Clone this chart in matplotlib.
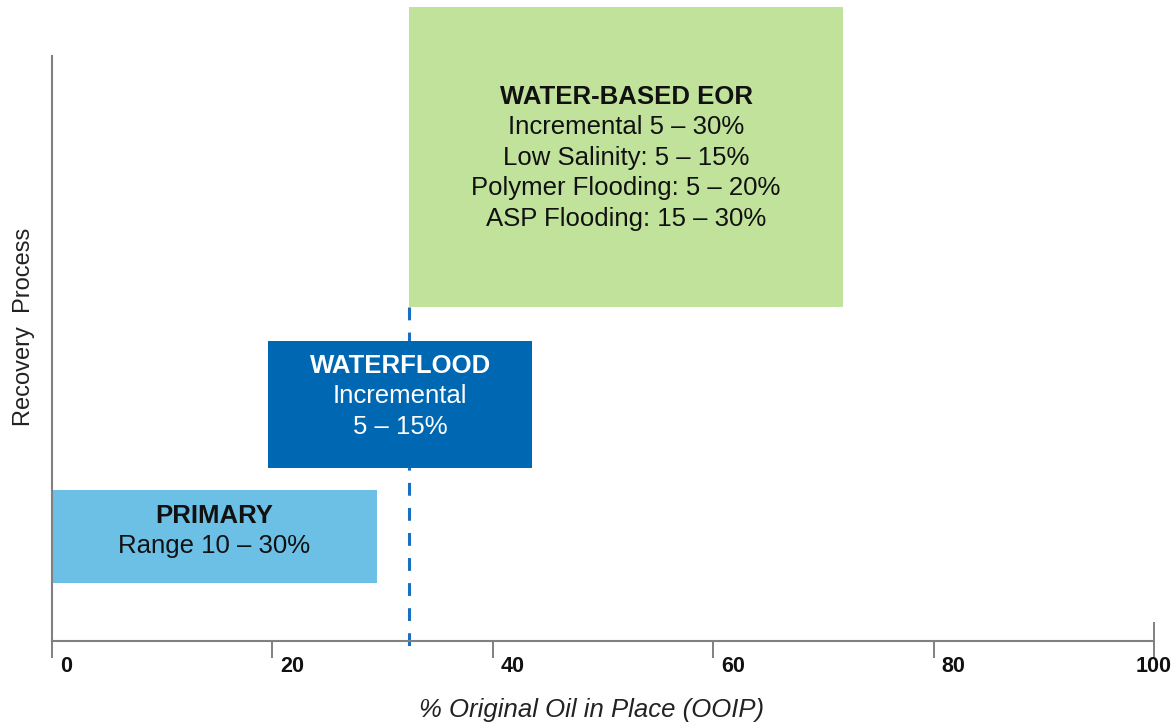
import matplotlib
matplotlib.use("Agg")
import matplotlib.pyplot as plt

plt.rcParams["font.family"] = ["Liberation Sans", "DejaVu Sans"]

# Recovery stages: OOIP span (x) and lane (y) of each block
processes = ["PRIMARY", "WATERFLOOD", "WATER-BASED EOR"]
ooip_start = [0, 19.6, 32.4]
ooip_end = [29.5, 43.6, 71.8]
lane_bottom = [9.1, 27.3, 52.7]
lane_top = [23.8, 47.3, 100.0]
details = [
    ["Range 10 \u2013 30%"],
    ["Incremental", "5 \u2013 15%"],
    ["Incremental 5 \u2013 30%", "Low Salinity: 5 \u2013 15%",
     "Polymer Flooding: 5 \u2013 20%", "ASP Flooding: 15 \u2013 30%"],
]
eor_onset = 32.4
x_ticks = [0, 20, 40, 60, 80, 100]
x_tick_labels = ["0", "20", "40", "60", "80", "100"]

fill_colors = ["#6CC0E5", "#0067B2", "#C0E29B"]
text_colors = ["#111111", "#FFFFFF", "#111111"]
text_shift_px = [1.5, -1.5, 8.0]   # vertical nudge of each text block (px, down)
line_pitch_px = 30.5
axis_gray = "#808080"

fig = plt.figure(figsize=(11.72, 7.24), dpi=100)
ax = fig.add_axes([52 / 1172, 83 / 724, 1102 / 1172, 634 / 724])
ax.set_xlim(0, 100)
ax.set_ylim(0, 100)

# blocks
for i, name in enumerate(processes):
    left = ooip_start[i]
    width = ooip_end[i] - ooip_start[i]
    ax.bar(left, lane_top[i] - lane_bottom[i], width=width, bottom=lane_bottom[i],
           align="edge", color=fill_colors[i], edgecolor="none", zorder=2,
           clip_on=False)
    cx = left + width / 2
    cy = (lane_bottom[i] + lane_top[i]) / 2
    lines = [name] + details[i]
    n = len(lines)
    for j, txt in enumerate(lines):
        down = text_shift_px[i] + (j - (n - 1) / 2) * line_pitch_px
        ax.annotate(txt, xy=(cx, cy), xycoords="data",
                    xytext=(0, -down), textcoords="offset pixels",
                    ha="center", va="baseline", fontsize=18.5,
                    fontweight="bold" if j == 0 else "normal",
                    color=text_colors[i], zorder=3, annotation_clip=False)

# dashed marker at the start of water-based EOR
ax.plot([eor_onset, eor_onset], [lane_bottom[2], -2.0], color="#1B6FC0",
        lw=2.2, dashes=(4.2, 4.0), zorder=1, clip_on=False)

# axes styling
for side in ("top", "right"):
    ax.spines[side].set_visible(False)
for side in ("left", "bottom"):
    ax.spines[side].set_color(axis_gray)
    ax.spines[side].set_linewidth(1.5)
ax.spines["left"].set_bounds(0, 92.3)
ax.set_yticks([])
ax.set_xticks(x_ticks)
ax.set_xticklabels([])
ax.tick_params(axis="x", direction="out", length=12.5, width=1.4, color=axis_gray)
ax.plot([100, 100], [0, 0.028], transform=ax.get_xaxis_transform(),
        color=axis_gray, lw=1.4, clip_on=False)

for v, lab in zip(x_ticks, x_tick_labels):
    last = v == x_ticks[-1]
    ax.annotate(lab, xy=(v, 0), xycoords=("data", "axes fraction"),
                xytext=(0 if last else 8, -15), textcoords="offset pixels",
                ha="center" if last else "left", va="top",
                fontsize=15.5, fontweight="bold", color="#111111",
                annotation_clip=False)

fig.text(592 / 1172, 1 - 710 / 724, "% Original Oil in Place (OOIP)",
         ha="center", va="center", fontsize=18.5, fontstyle="italic",
         color="#222222")
fig.text(24 / 1172, 1 - 326.5 / 724, "Recovery  Process", rotation=90,
         ha="center", va="center", fontsize=17, color="#222222")

fig.savefig("out.png", dpi=100)
